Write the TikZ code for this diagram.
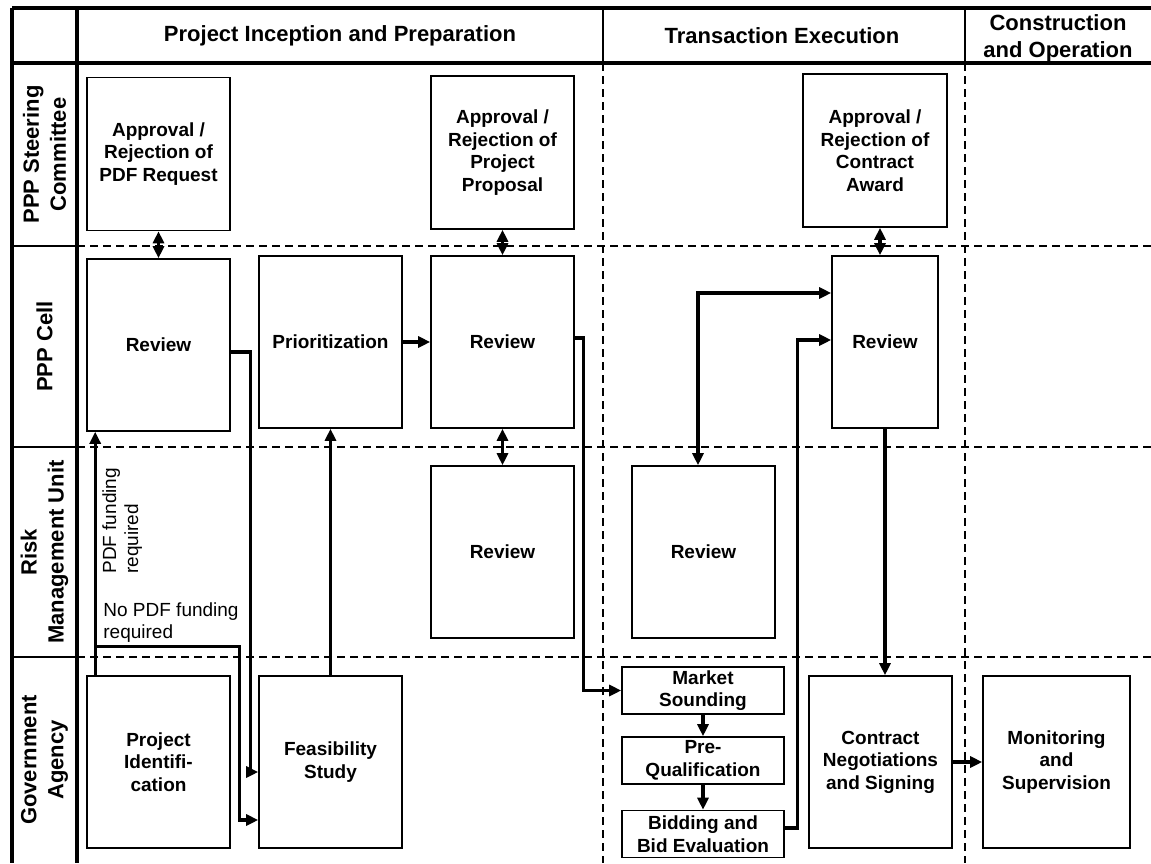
\documentclass[tikz,border=0pt]{standalone}
\usepackage{fontspec}
\setmainfont{Liberation Sans}
\usetikzlibrary{arrows.meta,positioning}

\begin{document}
\begin{tikzpicture}[x=0.5pt,y=-0.5pt,
box/.style={draw,line width=0.8pt,align=center,inner sep=1pt,font=\fontsize{9.5}{11.25}\selectfont\bfseries,minimum width=71.5pt,minimum height=86pt},
apbox/.style={box,minimum height=76.5pt},
small/.style={box,minimum width=81pt,minimum height=23.5pt},
arr/.style={line width=1.6pt,-{Triangle[length=6pt,width=5.5pt]}},
dbl/.style={line width=1.6pt,{Triangle[length=6pt,width=5.5pt]}-{Triangle[length=6pt,width=5.5pt]}},
sep/.style={line width=0.6pt,dash pattern=on 4pt off 2.5pt},
frame/.style={line width=1.6pt},
lane/.style={rotate=90,align=center,font=\fontsize{11}{13.5}\selectfont\bfseries},
head/.style={align=center,font=\fontsize{11}{13.5}\selectfont\bfseries},
note/.style={align=left,inner sep=0pt,font=\fontsize{9.5}{11}\selectfont}]
\useasboundingbox (0,0) rectangle (1151,863);
\draw[frame] (12,8)--(1151,8) (12,63)--(1151,63) (12,8)--(12,863) (77,8)--(77,863);
\draw[line width=0.8pt] (603,8)--(603,63) (965,8)--(965,63);
\foreach \y in {246,447,657} {
\draw[line width=0.8pt] (12,\y)--(77,\y);
\draw[sep] (77,\y)--(1151,\y);
}
\foreach \x in {603,965} \draw[sep] (\x,63)--(\x,863);
\node[head] (hpre) at (340,36) {Project Inception and Preparation};
\node[head] (htx) at (782,36) {Transaction Execution};
\node[head] (hcon) at (1058,38) {Construction\\and Operation};
\node[lane] (lsc) at (44.5,154.5) {PPP Steering\\Committee};
\node[lane] (lcell) at (44.5,346.5) {PPP Cell};
\node[lane] (lrmu) at (44.5,552) {Risk\\Management Unit};
\node[lane] (lgov) at (44.5,760) {Government\\Agency};
\node[apbox] (apdf) at (158.5,154) {Approval /\\Rejection of\\PDF Request};
\node[apbox] (apro) at (502.5,152.5) {Approval /\\Rejection of\\Project\\Proposal};
\node[apbox,minimum width=72pt] (acon) at (875,150.5) {Approval /\\Rejection of\\Contract\\Award};
\node[box] (rev1) at (158.5,345) {Review};
\node[box] (prio) at (330.5,342) {Prioritization};
\node[box] (rev2) at (502.5,342) {Review};
\node[box,minimum width=53pt] (rev3) at (885,342) {Review};
\node[box] (rmu1) at (502.5,552) {Review};
\node[box] (rmu2) at (703.5,552) {Review};
\node[box] (pid) at (158.5,762) {Project\\Identifi-\\cation};
\node[box] (feas) at (330.5,762) {Feasibility\\Study};
\node[small] (mkt) at (703,690.5) {Market\\Sounding};
\node[small] (preq) at (703,760.5) {Pre-\\Qualification};
\node[small] (bid) at (703,834) {Bidding and\\Bid Evaluation};
\node[box] (cneg) at (880.5,762) {Contract\\Negotiations\\and Signing};
\node[box,minimum width=73.5pt] (mon) at (1056.5,762) {Monitoring\\and\\Supervision};
\node[note,rotate=90,anchor=north west] (lpdf) at (102,574) {PDF funding\\required};
\node[note,anchor=south west] (lnopdf) at (103,643) {No PDF funding\\required};
\draw[dbl] (apdf)--(rev1);
\draw[dbl] (apro)--(rev2);
\draw[dbl] (rev2)--(rmu1);
\draw[dbl] ([xshift=2.5pt]acon.south)--([xshift=2.5pt]acon.south |- rev3.north);
\draw[arr] ([xshift=4.5pt]pid.north west)--([xshift=4.5pt]rev1.south west);
\draw[arr] ([xshift=4.5pt]pid.north west)--++(0,-29)--++(144,0)|-([yshift=-29pt]feas.west);
\draw[arr] ([yshift=-3.5pt]rev1.east)--++(20,0)|-([yshift=-5pt]feas.west);
\draw[arr] (feas)--(prio);
\draw[arr] (prio)--(rev2);
\draw[arr] ([yshift=2pt]rev2.east)--++(9,0)|-(mkt.west);
\draw[arr] (mkt)--(preq);
\draw[arr] (preq)--(bid);
\draw[arr] ([yshift=3pt]bid.east)--++(13,0)|-([yshift=1pt]rev3.west);
\draw[dbl] ([xshift=-2.75pt]rmu2.north)|-([yshift=24.5pt]rev3.west);
\draw[arr] (rev3.south)--(rev3.south |- cneg.north);
\draw[arr] (cneg)--(mon);
\end{tikzpicture}
\end{document}
